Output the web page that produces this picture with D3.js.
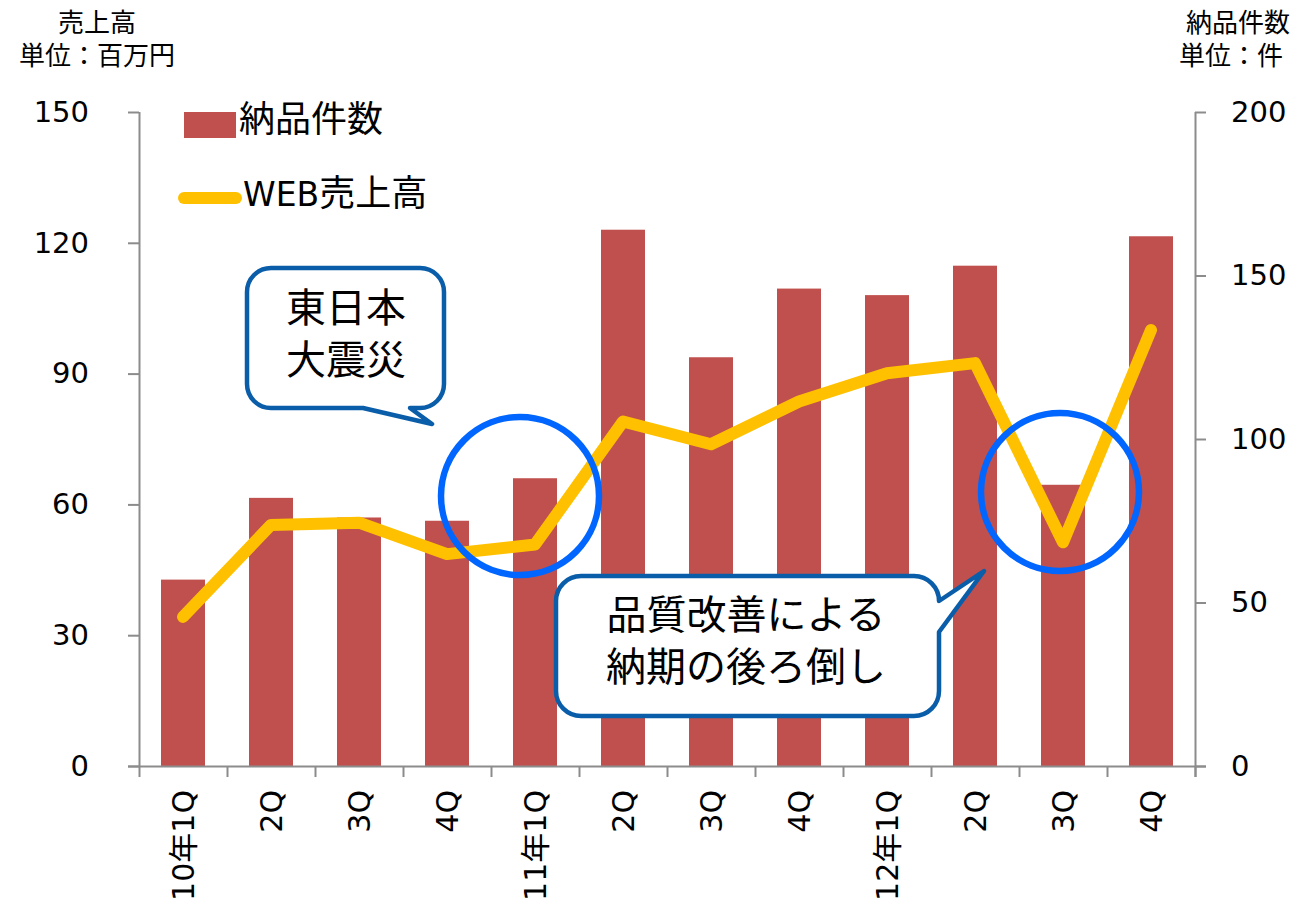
<!DOCTYPE html>
<html>
<head>
<meta charset="utf-8">
<script src="https://cdn.jsdelivr.net/npm/d3@7"></script>
<style>
  body { margin: 0; background: #fff; }
  text { font-family: "DejaVu Sans", "Noto Sans CJK JP", sans-serif; fill: #000; }
  .jp { font-family: "Noto Sans CJK JP", sans-serif; }
</style>
</head>
<body>
<script>
// quarters
var quarters = ["10年1Q", "2Q", "3Q", "4Q", "11年1Q", "2Q", "3Q", "4Q", "12年1Q", "2Q", "3Q", "4Q"];
// 納品件数 (right axis, 件)
var deliveries = [57, 82, 76, 75, 88, 164, 125, 146, 144, 153, 86, 162];
// WEB売上高 (left axis, 百万円)
var webSales = [34.2, 55.3, 55.8, 48.6, 50.8, 79.0, 73.8, 83.6, 90.1, 92.4, 51.3, 100];
var leftTicks = [0, 30, 60, 90, 120, 150];
var rightTicks = [0, 50, 100, 150, 200];

var W = 1294, H = 902;
var plot = { left: 139, right: 1195, top: 112, bottom: 766 };

var svg = d3.select("body").append("svg")
  .attr("width", W)
  .attr("height", H);

// scales
var x = d3.scaleBand()
  .domain(d3.range(quarters.length))
  .range([plot.left, plot.right])
  .paddingInner(0.5)
  .paddingOuter(0.25);
var xc = function (i) { return x(i) + x.bandwidth() / 2; };
var yL = d3.scaleLinear().domain([0, 150]).range([plot.bottom, plot.top]);
var yR = d3.scaleLinear().domain([0, 200]).range([plot.bottom, plot.top]);

// bars
svg.selectAll(".bar")
  .data(deliveries)
  .enter().append("rect")
  .attr("class", "bar")
  .attr("x", function (d, i) { return x(i); })
  .attr("width", x.bandwidth())
  .attr("y", function (d) { return yR(d); })
  .attr("height", function (d) { return plot.bottom - yR(d); })
  .attr("fill", "#c0504d");

// axes
var axisColor = "#8c8c8c";
var gL = svg.append("g")
  .attr("transform", "translate(" + plot.left + ",0)")
  .call(d3.axisLeft(yL).tickValues(leftTicks).tickSize(11).tickPadding(39));
var gR = svg.append("g")
  .attr("transform", "translate(" + plot.right + ",0)")
  .call(d3.axisRight(yR).tickValues(rightTicks).tickSize(11).tickPadding(25));
var xTick = d3.scaleLinear().domain([0, quarters.length]).range([plot.left, plot.right]);
var gB = svg.append("g")
  .attr("transform", "translate(0," + plot.bottom + ")")
  .call(d3.axisBottom(xTick).tickValues(d3.range(quarters.length + 1)).tickSize(11).tickFormat(""));

[gL, gR, gB].forEach(function (g) {
  g.select(".domain").attr("stroke", axisColor).attr("stroke-width", 2);
  g.selectAll(".tick line").attr("stroke", axisColor).attr("stroke-width", 2);
  g.selectAll(".tick text").attr("font-size", 29).attr("fill", "#000")
    .attr("font-family", "DejaVu Sans");
});
gB.select(".domain").attr("d", "M" + (plot.left - 11) + ",0.5H" + (plot.right + 11));
gL.select(".domain").attr("d", "M0.5," + plot.top + "V" + plot.bottom);
gR.select(".domain").attr("d", "M0.5," + plot.top + "V" + (plot.bottom + 11));

// category labels (rotated)
svg.append("g").selectAll("text")
  .data(quarters)
  .enter().append("text")
  .attr("transform", function (d, i) { return "translate(" + xc(i) + ",790) rotate(-90)"; })
  .attr("text-anchor", "end")
  .attr("dominant-baseline", "central")
  .attr("font-size", 30)
  .text(function (d) { return d; });

// line
var line = d3.line()
  .x(function (d, i) { return xc(i); })
  .y(function (d) { return yL(d); });
svg.append("path")
  .datum(webSales)
  .attr("d", line)
  .attr("fill", "none")
  .attr("stroke", "#ffc000")
  .attr("stroke-width", 12)
  .attr("stroke-linejoin", "round")
  .attr("stroke-linecap", "round");

// circles
var circles = [{ cx: 520, cy: 496, r: 79 }, { cx: 1060, cy: 492, r: 79 }];
svg.selectAll(".ring")
  .data(circles)
  .enter().append("ellipse")
  .attr("class", "ring")
  .attr("cx", function (d) { return d.cx; })
  .attr("cy", function (d) { return d.cy; })
  .attr("rx", function (d) { return d.r; })
  .attr("ry", function (d) { return d.r; })
  .attr("fill", "none")
  .attr("stroke", "#0066ff")
  .attr("stroke-width", 6.5);

// callouts
var calloutColor = "#0a5da9";
// callout 1: tail on bottom edge
var c1 = "M" + (247 + 24) + ",268 H" + (444 - 24) +
  " A24,24 0 0 1 444,292 V" + (408 - 24) +
  " A24,24 0 0 1 " + (444 - 24) + ",408 H410 L432,424 L363,408 H" + (247 + 24) +
  " A24,24 0 0 1 247," + (408 - 24) + " V292 A24,24 0 0 1 " + (247 + 24) + ",268 Z";
svg.append("path").attr("d", c1)
  .attr("fill", "#fff").attr("stroke", calloutColor).attr("stroke-width", 4.5)
  .attr("stroke-linejoin", "round");
// callout 2: tail on right edge
var c2 = "M" + (556 + 25) + ",576 H" + (939 - 25) +
  " A25,25 0 0 1 939,601 L984,571 L939,632 V" + (716 - 25) +
  " A25,25 0 0 1 " + (939 - 25) + ",716 H" + (556 + 25) +
  " A25,25 0 0 1 556," + (716 - 25) + " V601 A25,25 0 0 1 " + (556 + 25) + ",576 Z";
svg.append("path").attr("d", c2)
  .attr("fill", "#fff").attr("stroke", calloutColor).attr("stroke-width", 4.5)
  .attr("stroke-linejoin", "round");

function lines(arr, cx, y0, dy, size) {
  arr.forEach(function (t, i) {
    svg.append("text").attr("class", "jp")
      .attr("x", cx).attr("y", y0 + i * dy)
      .attr("text-anchor", "middle")
      .attr("font-size", size)
      .text(t);
  });
}
lines(["東日本", "大震災"], 346, 322, 52, 40);
lines(["品質改善による", "納期の後ろ倒し"], 746, 629, 52, 40);

// legend
svg.append("rect").attr("x", 184).attr("y", 112).attr("width", 52).attr("height", 26)
  .attr("fill", "#c0504d");
svg.append("text").attr("class", "jp").attr("x", 239).attr("y", 132)
  .attr("font-size", 36).text("納品件数");
svg.append("line").attr("x1", 184).attr("x2", 236).attr("y1", 198).attr("y2", 198)
  .attr("stroke", "#ffc000").attr("stroke-width", 12).attr("stroke-linecap", "round");
var t2 = svg.append("text").attr("x", 243).attr("y", 206).attr("font-size", 36);
t2.append("tspan").attr("font-family", "DejaVu Sans").attr("font-size", 33).text("WEB");
t2.append("tspan").attr("class", "jp").text("売上高");

// axis titles
svg.append("text").attr("class", "jp").attr("x", 97).attr("y", 32)
  .attr("text-anchor", "middle").attr("font-size", 26).text("売上高");
svg.append("text").attr("class", "jp").attr("x", 97).attr("y", 65)
  .attr("text-anchor", "middle").attr("font-size", 26).text("単位：百万円");
svg.append("text").attr("class", "jp").attr("x", 1290).attr("y", 32)
  .attr("text-anchor", "end").attr("font-size", 26).text("納品件数");
svg.append("text").attr("class", "jp").attr("x", 1179).attr("y", 65)
  .attr("font-size", 26).text("単位：件");
</script>
</body>
</html>
